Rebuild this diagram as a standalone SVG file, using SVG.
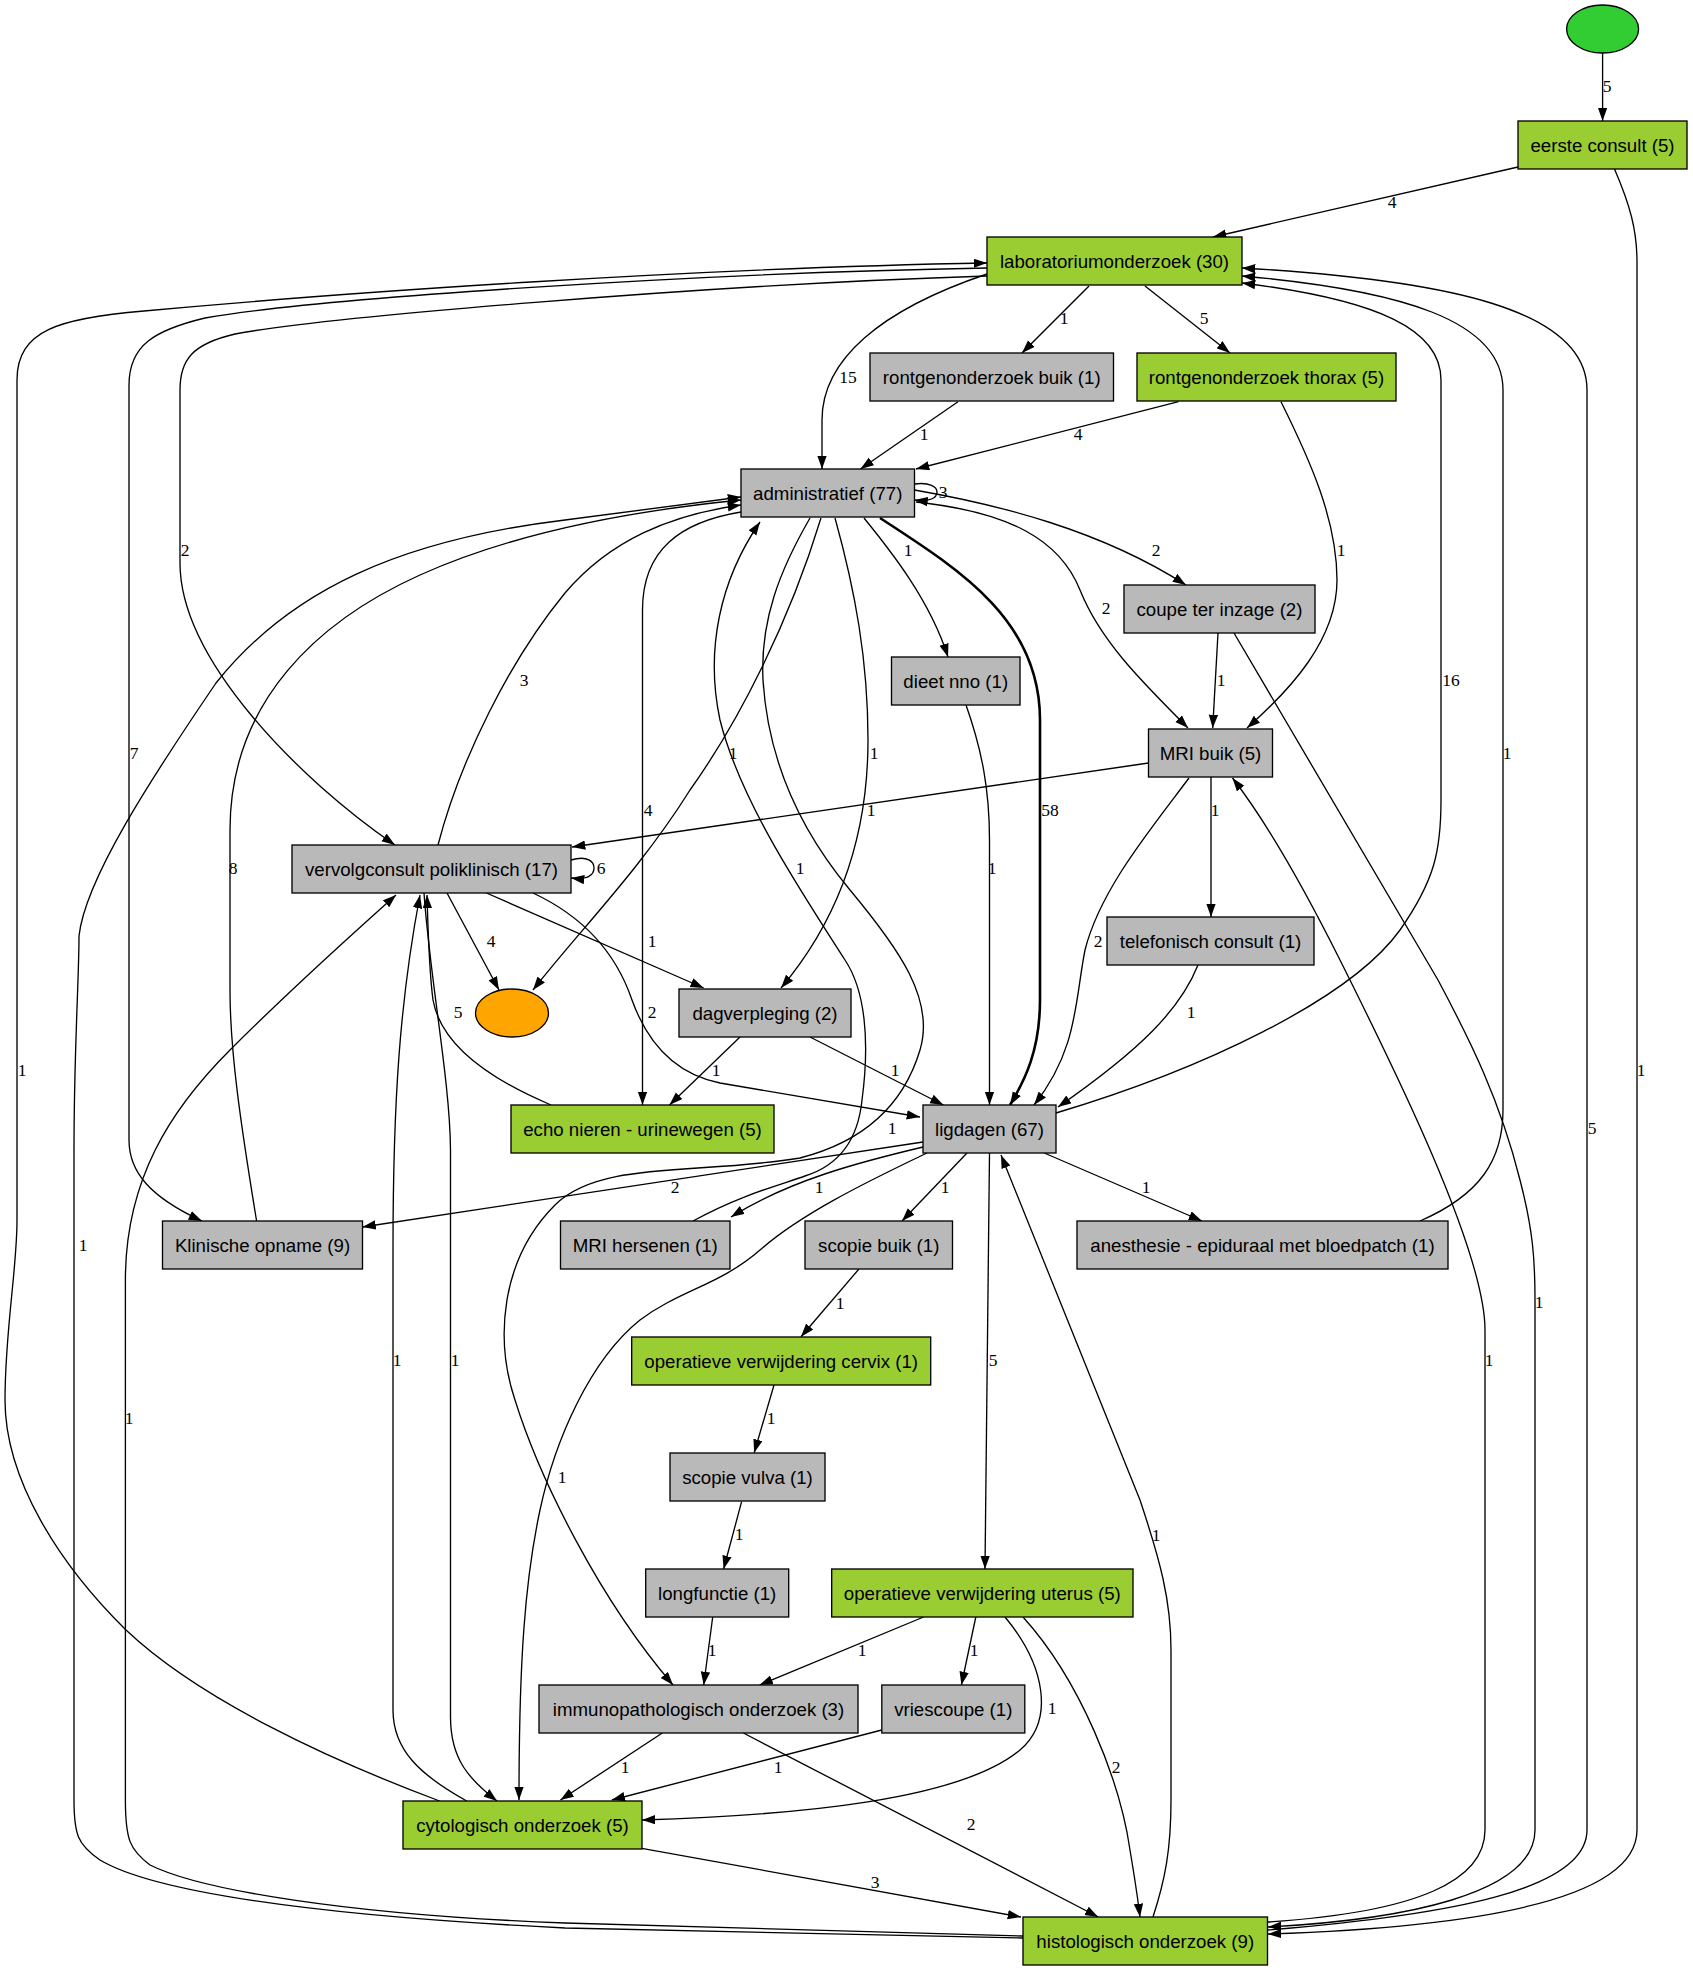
<svg xmlns="http://www.w3.org/2000/svg" width="1693" height="1971" viewBox="0 0 1693 1971">
<style>
  .n rect, .n ellipse { stroke: #000; stroke-width: 1.33; }
  .g rect { fill: #9acd32; }
  .s rect { fill: #b9b9b9; }
  .n text { font-family: "Liberation Sans", Arial, sans-serif; font-size: 18.67px; text-anchor: middle; fill: #000; }
  #edges path { fill: none; stroke: #000; stroke-width: 1.33; marker-end: url(#arr); }
  #edges path.thick { stroke-width: 2.6; }
  #labels text { font-family: "Liberation Serif", "Times New Roman", serif; font-size: 17.5px; text-anchor: middle; fill: #000; }
</style>
<defs>
  <marker id="arr" markerUnits="userSpaceOnUse" markerWidth="14" markerHeight="10" refX="13.3" refY="4.7" orient="auto">
    <path d="M0,0 L13.3,4.7 L0,9.4 z" fill="#000"/>
  </marker>
</defs>
<rect width="1693" height="1971" fill="#fff"/>

<g id="edges">
  <path d="M1602.6,52.7 L1602.6,121"/>
  <path d="M1518,167 L1213,237"/>
  <path d="M1614.5,169 C1630,205 1637,230 1637,262 L1637,1830 C1637,1905 1450,1928 1268,1934"/>
  <path d="M1089,286 L1022,353"/>
  <path d="M1145,286 L1230,353"/>
  <path d="M987,274 C880,310 822,360 822,420 L822,469"/>
  <path d="M987,276 C700,285 320,318 235,334 C192,344 180,360 180,390 L180,563 C180,660 300,780 395,845"/>
  <path d="M987,268 C700,273 320,298 205,318 C155,330 129,345 129,385 L129,1140 C129,1172 150,1197 202,1221"/>
  <path d="M958,401.7 L860.5,469"/>
  <path d="M1178.5,401.7 L916,469"/>
  <path d="M1281,401.7 C1310,460 1337,520 1337,580 C1337,640 1290,690 1247,728"/>
  <path d="M914.5,484 C930,482 937,487 937,492 C937,498 930,502 914.5,500"/>
  <path d="M914.5,490 C1000,505 1100,530 1186,585"/>
  <path d="M916,502 C1010,512 1060,540 1080,590 C1100,640 1140,680 1188,728"/>
  <path d="M864,518 C890,550 930,600 948,657"/>
  <path class="thick" d="M880,518 C960,570 1040,620 1040,720 L1040,1000 C1040,1050 1025,1080 1010,1105"/>
  <path d="M821,518 C790,620 740,720 690,790 C640,870 580,930 533,990"/>
  <path d="M835,518 C855,590 868,660 868,740 C868,850 830,930 781,988"/>
  <path d="M741,512 C680,522 642.5,550 642.5,610 L642.5,1105"/>
  <path d="M810,518 C780,570 760,620 763,680 C768,760 800,830 850,890 C900,950 935,1000 920,1050 C905,1100 870,1140 800,1158 C700,1175 600,1160 555,1205 C500,1260 495,1340 515,1400 C540,1480 600,1600 673,1685"/>
  <path d="M693,1221 C740,1195 780,1185 805,1176 C840,1165 858,1140 862,1100 C870,1040 865,990 845,960 C800,890 740,800 720,720 C705,650 720,580 760,522"/>
  <path d="M438,845 C460,760 510,660 565,593 C610,540 670,515 741,505"/>
  <path d="M256.6,1221 C240,1120 230,1050 230,990 L230,830 C230,700 320,620 420,575 C520,530 640,510 741,500"/>
  <path d="M1023,1938 L565,1928 C300,1915 150,1890 100,1860 C78,1845 74,1835 74,1800 L74,1150 C74,1050 79,980 79,936 C85,880 150,780 216,683 C290,590 400,540 565,520 C640,510 700,502 741,497"/>
  <path d="M1218,633 L1212.7,728"/>
  <path d="M1234,633 L1438,980 C1470,1040 1500,1100 1520,1180 C1533,1230 1535,1260 1535,1300 L1535,1830 C1535,1895 1400,1920 1268,1927"/>
  <path d="M966,705 C982,750 989.5,790 989.5,840 L989.5,1105"/>
  <path d="M1148.5,763 L572,847"/>
  <path d="M1211,777 L1211,917"/>
  <path d="M1189,778 C1150,830 1100,890 1085,950 C1075,1000 1078,1050 1034,1105"/>
  <path d="M1268,1922 C1420,1912 1485,1880 1485,1830 L1485,1330 C1485,1250 1390,1060 1340,960 C1300,880 1265,820 1232.5,778"/>
  <path d="M1198,965 C1180,1010 1140,1050 1058,1107"/>
  <path d="M571,860 C588,855 594,862 594,868 C594,875 588,880 571,878"/>
  <path d="M447,893 L499,990"/>
  <path d="M486.5,893 L703.7,988"/>
  <path d="M533,893 C580,915 615,950 632,1000 C650,1050 680,1075 720,1083 L920,1117"/>
  <path d="M424,893 C430,980 450,1080 450.5,1150 L450.5,1717 C450.5,1760 470,1780 497,1801"/>
  <path d="M466.7,1801 C420,1775 393,1750 393,1710 L393,1250 C393,1100 400,1000 420,895"/>
  <path d="M551,1105 C480,1075 440,1040 433,1000 C429,970 428,930 427,895"/>
  <path d="M1023,1936 L565,1923 C350,1915 200,1890 150,1865 C130,1850 125.4,1840 125.4,1800 L125.4,1280 C125.4,1180 170,1110 230,1050 C290,990 340,945 396,895"/>
  <path d="M740,1037 L669.5,1105"/>
  <path d="M810,1037 L943.4,1105"/>
  <path d="M1056,1113 C1200,1070 1350,1000 1400,930 C1435,880 1441,850 1441,800 L1441,380 C1441,330 1380,300 1242,283"/>
  <path d="M923,1142 L362.5,1227"/>
  <path d="M923,1147 C860,1162 790,1180 731,1217"/>
  <path d="M967,1153 L902,1221"/>
  <path d="M1044.3,1153 L1202,1221"/>
  <path d="M989.5,1153 L985,1569"/>
  <path d="M927,1153 C860,1185 800,1215 760,1250 C720,1285 680,1290 640,1320 C590,1360 555,1440 540,1510 C525,1580 519,1660 519,1800"/>
  <path d="M1153,1917 C1165,1880 1171,1850 1171,1800 L1171,1650 C1171,1600 1160,1560 1140,1500 L1001,1155"/>
  <path d="M1420,1221 C1480,1195 1503,1160 1503,1110 L1503,390 C1503,320 1400,290 1242,276"/>
  <path d="M1268,1930 C1450,1915 1587,1890 1587,1830 L1587,390 C1587,310 1450,280 1242,268"/>
  <path d="M439.6,1801 C330,1760 200,1700 126,1630 C60,1565 5,1480 5,1400 C5,1330 17,1270 17,1220 L17,380 C17,330 60,318 144,311 C350,292 700,268 987,263"/>
  <path d="M858.7,1269.3 L801,1336.7"/>
  <path d="M774,1385 L754.2,1452.7"/>
  <path d="M741.6,1501.7 L723.6,1569"/>
  <path d="M712.7,1617 L703.7,1685"/>
  <path d="M923.6,1617 L759.6,1685"/>
  <path d="M975.8,1617 L961.4,1685"/>
  <path d="M1005,1617 C1045,1665 1055,1720 1020,1750 C960,1800 800,1815 642,1820"/>
  <path d="M1023,1617 C1080,1680 1120,1780 1130,1850 C1135,1880 1138,1900 1140,1917"/>
  <path d="M662.3,1733 L560.4,1800"/>
  <path d="M743.4,1733 L1098.3,1917"/>
  <path d="M881.8,1730 L611.8,1800"/>
  <path d="M641.8,1848.3 L1021,1917"/>
</g>

<g id="labels">
  <text x="1607" y="92">5</text>
  <text x="1392" y="208">4</text>
  <text x="1641" y="1076">1</text>
  <text x="1064" y="324">1</text>
  <text x="1204" y="324">5</text>
  <text x="848" y="383">15</text>
  <text x="185" y="556">2</text>
  <text x="134" y="759">7</text>
  <text x="924" y="440">1</text>
  <text x="1078" y="440">4</text>
  <text x="1341" y="556">1</text>
  <text x="943" y="498">3</text>
  <text x="1156" y="556">2</text>
  <text x="1106" y="614">2</text>
  <text x="908" y="556">1</text>
  <text x="1050" y="816">58</text>
  <text x="733" y="759">1</text>
  <text x="874" y="759">1</text>
  <text x="648" y="816">4</text>
  <text x="892" y="1134">1</text>
  <text x="800" y="874">1</text>
  <text x="524" y="686">3</text>
  <text x="233" y="874">8</text>
  <text x="83" y="1251">1</text>
  <text x="1221" y="686">1</text>
  <text x="1539" y="1308">1</text>
  <text x="992" y="874">1</text>
  <text x="871" y="816">1</text>
  <text x="1215" y="816">1</text>
  <text x="1098" y="947">2</text>
  <text x="1489" y="1366">1</text>
  <text x="1191" y="1018">1</text>
  <text x="601" y="874">6</text>
  <text x="491" y="947">4</text>
  <text x="652" y="947">1</text>
  <text x="652" y="1018">2</text>
  <text x="455" y="1366">1</text>
  <text x="397" y="1366">1</text>
  <text x="458" y="1018">5</text>
  <text x="129" y="1424">1</text>
  <text x="716" y="1076">1</text>
  <text x="895" y="1076">1</text>
  <text x="1451" y="686">16</text>
  <text x="675" y="1193">2</text>
  <text x="819" y="1193">1</text>
  <text x="945" y="1193">1</text>
  <text x="1146" y="1193">1</text>
  <text x="993" y="1366">5</text>
  <text x="562" y="1483">1</text>
  <text x="1156" y="1541">1</text>
  <text x="1507" y="759">1</text>
  <text x="1592" y="1134">5</text>
  <text x="22" y="1076">1</text>
  <text x="840" y="1309">1</text>
  <text x="771" y="1424">1</text>
  <text x="739" y="1540">1</text>
  <text x="712" y="1656">1</text>
  <text x="862" y="1656">1</text>
  <text x="974" y="1656">1</text>
  <text x="1052" y="1714">1</text>
  <text x="1116" y="1773">2</text>
  <text x="625" y="1773">1</text>
  <text x="971" y="1830">2</text>
  <text x="778" y="1773">1</text>
  <text x="875" y="1888">3</text>
</g>

<g id="start" class="n"><ellipse cx="1602.6" cy="29" rx="36" ry="24" fill="#32cd32"/></g>
<g id="end" class="n"><ellipse cx="512" cy="1013" rx="36.5" ry="24" fill="#ffa500"/></g>
<g id="eerste" class="n g"><rect x="1518" y="121" width="169" height="48"/><text x="1602.5" y="151.5">eerste consult (5)</text></g>
<g id="lab" class="n g"><rect x="987" y="237" width="255" height="48"/><text x="1114.5" y="267.5">laboratoriumonderzoek (30)</text></g>
<g id="rbuik" class="n s"><rect x="870" y="353" width="243.5" height="48"/><text x="991.75" y="383.5">rontgenonderzoek buik (1)</text></g>
<g id="thorax" class="n g"><rect x="1137" y="353" width="259" height="48"/><text x="1266.5" y="383.5">rontgenonderzoek thorax (5)</text></g>
<g id="admin" class="n s"><rect x="741" y="469" width="173.5" height="48"/><text x="827.75" y="499.5">administratief (77)</text></g>
<g id="coupe" class="n s"><rect x="1124" y="585" width="191" height="48"/><text x="1219.5" y="615.5">coupe ter inzage (2)</text></g>
<g id="dieet" class="n s"><rect x="891.5" y="657" width="128.5" height="48"/><text x="955.75" y="687.5">dieet nno (1)</text></g>
<g id="mribuik" class="n s"><rect x="1148.5" y="729" width="124" height="48"/><text x="1210.5" y="759.5">MRI buik (5)</text></g>
<g id="telefonisch" class="n s"><rect x="1107" y="917" width="207" height="48"/><text x="1210.5" y="947.5">telefonisch consult (1)</text></g>
<g id="vervolg" class="n s"><rect x="292" y="845" width="279" height="48"/><text x="431.5" y="875.5">vervolgconsult poliklinisch (17)</text></g>
<g id="dagverpleging" class="n s"><rect x="679" y="989" width="172" height="48"/><text x="765" y="1019.5">dagverpleging (2)</text></g>
<g id="echo" class="n g"><rect x="511" y="1105" width="263" height="48"/><text x="642.5" y="1135.5">echo nieren - urinewegen (5)</text></g>
<g id="ligdagen" class="n s"><rect x="923" y="1105" width="133" height="48"/><text x="989.5" y="1135.5">ligdagen (67)</text></g>
<g id="klinisch" class="n s"><rect x="162.5" y="1221" width="200" height="48"/><text x="262.5" y="1251.5">Klinische opname (9)</text></g>
<g id="mrihersenen" class="n s"><rect x="560.5" y="1221" width="169.5" height="48"/><text x="645.25" y="1251.5">MRI hersenen (1)</text></g>
<g id="scopiebuik" class="n s"><rect x="805" y="1221" width="147.5" height="48"/><text x="878.75" y="1251.5">scopie buik (1)</text></g>
<g id="anesthesie" class="n s"><rect x="1077" y="1221" width="371" height="48"/><text x="1262.5" y="1251.5">anesthesie - epiduraal met bloedpatch (1)</text></g>
<g id="cervix" class="n g"><rect x="631.7" y="1337" width="299" height="48"/><text x="781.2" y="1367.5">operatieve verwijdering cervix (1)</text></g>
<g id="vulva" class="n s"><rect x="670" y="1453" width="155" height="48"/><text x="747.5" y="1483.5">scopie vulva (1)</text></g>
<g id="longfunctie" class="n s"><rect x="645.7" y="1569" width="143" height="48"/><text x="717.2" y="1599.5">longfunctie (1)</text></g>
<g id="uterus" class="n g"><rect x="831.7" y="1569" width="301.3" height="48"/><text x="982.3" y="1599.5">operatieve verwijdering uterus (5)</text></g>
<g id="immuno" class="n s"><rect x="539" y="1685" width="319" height="48"/><text x="698.5" y="1715.5">immunopathologisch onderzoek (3)</text></g>
<g id="vriescoupe" class="n s"><rect x="881.8" y="1685" width="143" height="48"/><text x="953.3" y="1715.5">vriescoupe (1)</text></g>
<g id="cytologisch" class="n g"><rect x="403" y="1801" width="239" height="48"/><text x="522.5" y="1831.5">cytologisch onderzoek (5)</text></g>
<g id="histologisch" class="n g"><rect x="1023" y="1917" width="244.5" height="48"/><text x="1145.25" y="1947.5">histologisch onderzoek (9)</text></g>
</svg>
